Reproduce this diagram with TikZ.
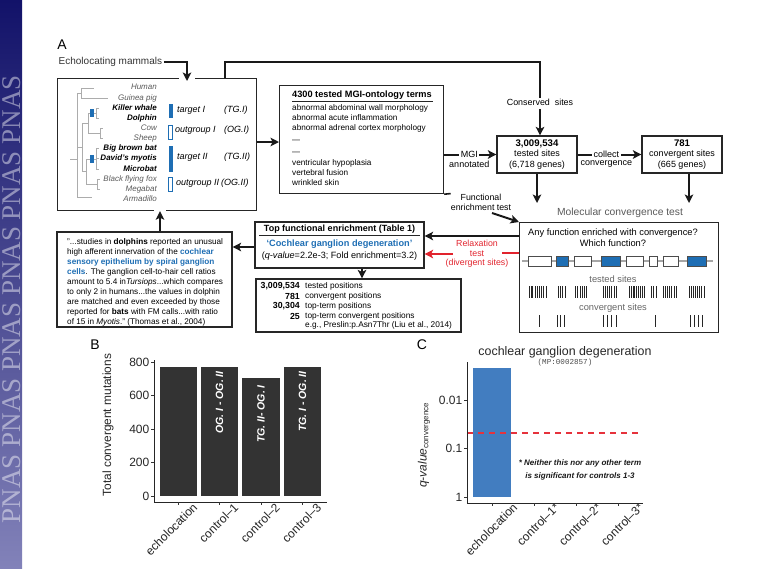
\documentclass[tikz,border=0pt]{standalone}
\usepackage{fontspec}
\setmainfont{Liberation Sans}
\setmonofont{Liberation Mono}
\newfontfamily\pnasfont{Liberation Serif}
\usetikzlibrary{arrows.meta,positioning,calc}
\definecolor{qblue}{RGB}{30,110,180}
\definecolor{cblue}{RGB}{66,125,192}
\definecolor{rred}{RGB}{225,35,45}
\definecolor{dred}{RGB}{230,50,60}
\definecolor{bandtop}{RGB}{18,18,105}
\definecolor{bandbot}{RGB}{130,130,185}
\newcommand\fsz[2]{\fontsize{#1}{#2}\selectfont}
\begin{document}
\begin{tikzpicture}[x=1pt,y=-1pt,
  box/.style={draw=black!85, line width=1.2pt, inner sep=0pt},
  arr/.style={draw=black!90, line width=2pt, -{Stealth[length=8.5pt,width=8.5pt,inset=2pt]}},
  ln/.style={draw=black!90, line width=2pt},
  rarr/.style={draw=rred, line width=2pt, -{Stealth[length=8.5pt,width=8.5pt,inset=2pt]}},
  treeln/.style={draw=gray!65, line width=0.7pt},
  sp/.style={anchor=east, inner sep=0pt, font=\fsz{8}{9}\itshape, text=black!65},
  spb/.style={anchor=east, inner sep=0pt, font=\fsz{8}{9}\bfseries\itshape, text=black},
  grp/.style={anchor=west, inner sep=0pt, font=\fsz{9}{10}\itshape},
  txt/.style={inner sep=0pt},
  tick/.style={draw=black!80, line width=0.8pt},
  axl/.style={inner sep=0pt, font=\fsz{12}{13}, text=black!85},
  xl/.style={inner sep=0pt, font=\fsz{12}{13}, text=black!85, rotate=45, anchor=north east},
  barl/.style={inner sep=0pt, font=\fsz{10.5}{11}\bfseries\itshape, text=white, rotate=90, anchor=east},
]
\useasboundingbox (0,0) rectangle (775,568);
% ---------- PNAS band ----------
\shade[top color=bandtop, bottom color=bandbot] (0,0) rectangle (22,568);
\node[rotate=90, anchor=south east, inner sep=0pt, text=white, opacity=0.45, font=\pnasfont\fsz{27}{27}] (pnas) at (21,75) {PNAS PNAS PNAS PNAS PNAS PNAS};

% ---------- Panel A ----------
\node[txt, font=\fsz{14}{14}] (labA) at (62,45) {A};
\node[anchor=west, inner sep=1.5pt, font=\fsz{10}{11}, text=black!80] (echo) at (57,62) {Echolocating mammals};

% tree box
\node[box, anchor=north west, minimum width=199pt, minimum height=132pt] (tree) at (57,78) {};
\fill[white] (179,76.5) rectangle (195,79.6);
\fill[white] (154,208.4) rectangle (166,211.6);

% tree
\draw[treeln] (70,159) -- (77,159);
\draw[treeln] (77,93) -- (77,197);
\draw[treeln] (77,93) -- (81,93) (81,88) -- (81,98) (81,88) -- (94,88) (81,98) -- (108,98);
\draw[treeln] (77,147) -- (82,147) (82,123) -- (82,171);
\draw[treeln] (82,123) -- (88,123) (88,113) -- (88,133);
\draw[treeln] (88,113) -- (96,113) (96,108) -- (96,118) (96,108) -- (99,108) (96,118) -- (99,118);
\draw[treeln] (88,133) -- (100,133) (100,128) -- (100,138) (100,128) -- (103,128) (100,138) -- (103,138);
\draw[treeln] (82,171) -- (86,171) (86,159) -- (86,184);
\draw[treeln] (86,159) -- (96,159) (96,148) -- (96,169) (96,148) -- (99,148) (96,158) -- (99,158) (96,169) -- (99,169);
\draw[treeln] (86,184) -- (97,184) (97,179) -- (97,189) (97,179) -- (100,179) (97,189) -- (100,189);
\draw[treeln] (77,197) -- (92,197);
\fill[qblue] (90,109) rectangle (94,117);
\fill[qblue] (90,155) rectangle (94,163);

\node[sp]  (human)  at (157,87)  {Human};
\node[sp]  (guinea) at (157,98)  {Guinea pig};
\node[spb] (whale)  at (157,108) {Killer whale};
\node[spb] (dolph)  at (157,118) {Dolphin};
\node[sp]  (cow)    at (157,128) {Cow};
\node[sp]  (sheep)  at (157,138) {Sheep};
\node[spb] (bbb)    at (157,148) {Big brown bat};
\node[spb] (myot)   at (157,158) {David's myotis};
\node[spb] (micro)  at (157,169) {Microbat};
\node[sp]  (bff)    at (157,179) {Black flying fox};
\node[sp]  (mega)   at (157,189) {Megabat};
\node[sp]  (arma)   at (157,199) {Armadillo};

\fill[qblue] (169,104) rectangle (173,118);
\draw[qblue, line width=1pt] (168.5,125) rectangle (172.5,139);
\fill[qblue] (169,146) rectangle (173,172);
\draw[qblue, line width=1pt] (168.5,177) rectangle (172.5,191);
\node[grp] (tg1)  at (177,110) {target I};
\node[grp] (tg1b) at (224,110) {(TG.I)};
\node[grp] (og1)  at (175,130) {outgroup I};
\node[grp] (og1b) at (224,130) {(OG.I)};
\node[grp] (tg2)  at (177,157) {target II};
\node[grp] (tg2b) at (224,157) {(TG.II)};
\node[grp] (og2)  at (176,183) {outgroup II};
\node[grp] (og2b) at (221,183) {(OG.II)};

% MGI box
\node[box, anchor=north west, minimum width=164pt, minimum height=108pt] (mgi) at (279,85) {};
\node[anchor=west, inner sep=0pt, font=\fsz{9.2}{10}\bfseries] (mgit) at (292,95) {4300 tested MGI-ontology terms};
\draw[black!85, line width=0.7pt] (292,101) -- (433,101);
\node[anchor=north west, inner sep=0pt, align=left, font=\fsz{8.2}{10}] (mgil1) at (292,104) {abnormal abdominal wall morphology\\abnormal acute inflammation\\abnormal adrenal cortex morphology};
\node[anchor=west, inner sep=0pt, font=\fsz{8}{10}] (dash1) at (292,141) {---};
\node[anchor=west, inner sep=0pt, font=\fsz{8}{10}] (dash2) at (292,153) {---};
\node[anchor=north west, inner sep=0pt, align=left, font=\fsz{8.2}{10}] (mgil2) at (292,159) {ventricular hypoplasia\\vertebral fusion\\wrinkled skin};

% sites boxes
\node[box, minimum width=80pt, minimum height=37pt, align=center, font=\fsz{9}{10.5}] (s3m) at (537,154.5) {{\fsz{9.6}{10.5}\bfseries 3,009,534}\\tested sites\\(6,718 genes)};
\node[box, minimum width=80pt, minimum height=37pt, align=center, font=\fsz{9}{10.5}] (s781) at (682,154.5) {{\fsz{9.6}{10.5}\bfseries 781}\\convergent sites\\(665 genes)};
\node[inner sep=1pt, font=\fsz{8.9}{10}] (cons) at (540,102) {Conserved\ \ sites};

% connectors top
\coordinate (treein) at (187,81);
\draw[arr] (echo.east) -| (treein);
\coordinate (tt) at (225,78);
\coordinate (tc) at (225,62);
\draw[ln] (tt) -- (tc) -| (cons.north);
\draw[arr, shorten <=3pt] (cons.south) -- (s3m.north -| cons.south);
\draw[arr] (tree.east |- 0,142) -- (mgi.west |- 0,142);
\draw[arr] (mgi.east |- s3m.west) -- (s3m.west) node[pos=0.48, fill=white, inner sep=1.5pt, font=\fsz{9}{10}] (mgilab) {MGI};
\node[below=-0.5pt of mgilab, inner sep=1pt, font=\fsz{9}{10}] (annot) {annotated};
\draw[arr] (s3m.east) -- (s781.west) node[pos=0.45, fill=white, inner sep=1.5pt, font=\fsz{9}{10}] (collab) {collect};
\node[below=-0.5pt of collab, inner sep=1pt, font=\fsz{9}{10}] (convlab) {convergence};

% molecular convergence test
\node[box, anchor=north west, minimum width=199pt, minimum height=110pt] (mol) at (519,222) {};
\node[text=black!65, inner sep=0pt, font=\fsz{10.3}{12}] (mct) at (620,213) {Molecular convergence test};
\coordinate (d1) at (538,203);
\coordinate (d2) at (689,203);
\draw[arr] (s3m.south) -- (s3m.south |- d1);
\draw[arr] (s781.south -| d2) -- (d2);
\node[align=center, inner sep=0pt, font=\fsz{9.3}{11}] (q1) at (613,237.5) {Any function enriched with convergence?\\Which function?};
\draw[gray!70, line width=2.5pt] (522,261) -- (713,261);
\foreach \a/\b/\c in {528/551/white, 556/568/qblue, 574/591/white, 601/620/qblue, 626/643/white, 649/657/white, 663/678/white, 687/706/qblue}
  \draw[fill=\c, draw=black!70, line width=0.8pt] (\a,256) rectangle (\b,266);
\node[text=black!60, inner sep=0pt, font=\fsz{9.3}{10}] (tsl) at (613,279) {tested sites};
\foreach \x in {529,531,532.5,535,537,539,541,543.5,546, 558,560,562.5,565, 575,577,580,582,584,586.5, 603,605,607,609,611.5,614,616.5, 629,631,633,634.5,636,638,640,642,644, 651,653,656, 663,665,667.5,669,671,674,676, 689,691,693,695,697,699,701.5,704}
  \draw[black!85, line width=1pt] (\x,286) -- (\x,298);
\node[text=black!60, inner sep=0pt, font=\fsz{9.3}{10}] (csl) at (613,308) {convergent sites};
\foreach \x in {539, 557,560,564, 603,607,611,616, 655, 690,694,698,702}
  \draw[black!85, line width=1pt] (\x,315) -- (\x,327);

% functional enrichment label
\node[align=center, inner sep=0pt, font=\fsz{8.8}{10}] (fet) at (481,202) {Functional\\enrichment test};
\draw[draw=black!90, line width=1.6pt] (mgi.south east) -- (fet.north west);
\coordinate (fa) at (492,213);
\draw[arr] (fa) -- (mol.north west);

% top functional enrichment
\node[box, minimum width=169pt, minimum height=46pt] (top) at (339.5,245) {};
\node[inner sep=0pt, font=\fsz{9}{10}\bfseries] (topt) at (339.5,229) {Top functional enrichment (Table 1)};
\draw[black!85, line width=0.8pt] (259,235) -- (420,235);
\node[inner sep=0pt, text=qblue, font=\fsz{9.2}{10}\bfseries] (topc) at (339.5,244.5) {‘Cochlear ganglion degeneration’};
\node[inner sep=0pt, font=\fsz{9.1}{10}] (topq) at (339.5,256.5) {(\textit{q-value}=2.2e-3; Fold enrichment=3.2)};

\draw[arr] (mol.west |- 0,236) -- (top.east |- 0,236);
\coordinate (rl1) at (502,253);
\draw[draw=rred, line width=2pt] (mol.west |- rl1) -- (rl1);
\node[text=rred, align=center, inner sep=0pt, font=\fsz{8.8}{9.6}] (relax) at (477,254) {Relaxation\\test\\(divergent sites)};
\coordinate (rl2) at (453,254);
\draw[rarr] (rl2) -- (top.east |- rl2);

% positions box
\node[box, minimum width=205pt, minimum height=53pt] (pos) at (358.5,305.5) {};
\draw[arr] (top.south -| 362,0) -- (pos.north -| 362,0);
\foreach \n/\y/\t in {3{,}009{,}534/286/tested positions, 781/296/convergent positions, 30{,}304/306/top-term positions, 25/316/top-term convergent positions}{
  \node[anchor=east, inner sep=0pt, font=\fsz{8.8}{10}\bfseries] at (300,\y) {\n};
  \node[anchor=west, inner sep=0pt, font=\fsz{8.3}{10}] at (305,\y) {\t};
}
\node[anchor=west, inner sep=0pt, font=\fsz{8.3}{10}] (eg) at (305,325.5) {e.g., Preslin:p.Asn7Thr (Liu et al., 2014)};

% quote box
\node[box, minimum width=175pt, minimum height=95pt] (quote) at (144.5,279.5) {};
\node[anchor=north west, inner sep=0pt, align=left, font=\fsz{8.2}{10.1}] (qtext) at (67,238) {%
"...studies in \textbf{dolphins} reported an unusual\\
high afferent innervation of the \textcolor{qblue}{\textbf{cochlear}}\\
\textcolor{qblue}{\textbf{sensory epithelium by spiral ganglion}}\\
\textcolor{qblue}{\textbf{cells}}. The ganglion cell-to-hair cell ratios\\
amount to 5.4 in\textit{Tursiops}...which compares\\
to only 2 in humans...the values in dolphin\\
are matched and even exceeded by those\\
reported for \textbf{bats} with FM calls...with ratio\\
of 15 in \textit{Myotis}." (Thomas et al., 2004)};
\draw[arr] (top.west |- 0,247) -- (quote.east |- 0,247);
\draw[arr] (quote.north -| 160,0) -- (tree.south -| 160,0);

% ---------- Panel B ----------
\node[txt, font=\fsz{14}{14}] (labB) at (95,345) {B};
\node[rotate=90, inner sep=0pt, font=\fsz{11.9}{12}, text=black!85] (ylabB) at (108,425) {Total convergent mutations};
\fill[black!80] (160,367) rectangle (197,496);
\fill[black!80] (201,367) rectangle (238,496);
\fill[black!80] (242,378) rectangle (280,496);
\fill[black!80] (284,367) rectangle (321,496);
\draw[black!85, line width=0.8pt] (154,360) -- (154,502) -- (327,502);
\foreach \v/\y in {0/496, 200/462.5, 400/429, 600/395.5, 800/362}{
  \draw[tick] (151,\y) -- (154,\y);
  \node[axl, anchor=east] at (149.5,\y) {\v};
}
\foreach \x in {178.5,219.5,261,302.5} \draw[tick] (\x,502) -- (\x,505);
\node[xl] (xb1) at (192,502) {echolocation};
\node[xl] (xb2) at (233,502) {control--1};
\node[xl] (xb3) at (274.5,502) {control--2};
\node[xl] (xb4) at (316,502) {control--3};
\node[barl] (bl2) at (219.5,371) {OG. I - OG. II};
\node[barl] (bl3) at (261,385) {TG. II- OG. I};
\node[barl] (bl4) at (302.5,371) {TG. I - OG. II};

% ---------- Panel C ----------
\node[txt, font=\fsz{14}{14}] (labC) at (422,345) {C};
\node[inner sep=0pt, font=\fsz{12.4}{13}, text=black!85] (ctitle) at (565,352) {cochlear ganglion degeneration};
\node[inner sep=0pt, font=\ttfamily\fsz{7.6}{8}, text=black!70] (cmp) at (565,363) {(MP:0002857)};
\fill[cblue] (473,368) rectangle (511,497);
\draw[draw=dred, line width=1.3pt, dash pattern=on 6pt off 5pt] (467,433) -- (638,433);
\draw[black!85, line width=0.8pt] (467,362) -- (467,503) -- (643,503);
\foreach \v/\y in {0.01/400, 0.1/448, 1/497}{
  \draw[tick] (464,\y) -- (467,\y);
  \node[axl, anchor=east] at (462.5,\y) {\v};
}
\foreach \x in {492,534,576,618} \draw[tick] (\x,503) -- (\x,506);
\node[rotate=90, inner sep=0pt, font=\fsz{12}{13}, text=black!85] (ylabC) at (424,445) {\textit{q-value}\textsubscript{convergence}};
\node[xl] (xc1) at (512,502) {echolocation};
\node[xl] (xc2) at (554,502) {control--1*};
\node[xl] (xc3) at (596,502) {control--2*};
\node[xl] (xc4) at (638,502) {control--3*};
\node[align=center, inner sep=0pt, font=\fsz{8}{13}\bfseries\itshape, text=black!90] (cnote) at (580,469.5) {* Neither this nor any other term\\is significant for controls 1-3};
\end{tikzpicture}
\end{document}
